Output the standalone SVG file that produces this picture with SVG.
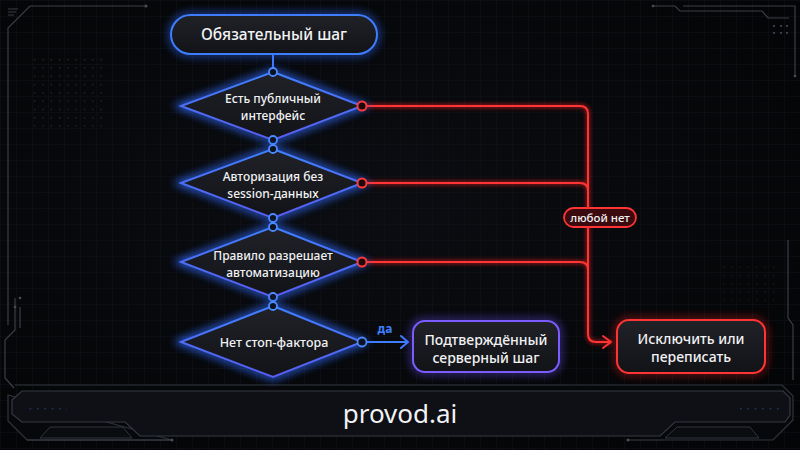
<svg xmlns="http://www.w3.org/2000/svg" width="800" height="450" viewBox="0 0 800 450">
<defs>
<pattern id="grid" width="16" height="16" patternUnits="userSpaceOnUse">
<path d="M16 0H0V16" fill="none" stroke="#11141b" stroke-width="1"/>
</pattern>
<pattern id="dots" width="8.3" height="8.3" patternUnits="userSpaceOnUse">
<circle cx="1.5" cy="1.5" r="0.8" fill="#2a2e36"/>
</pattern>
<pattern id="bdots" width="7.4" height="8.5" patternUnits="userSpaceOnUse">
<rect x="0" y="0" width="1.4" height="1.4" fill="#1f3a6a"/>
</pattern>
<radialGradient id="vig" cx="45%" cy="45%" r="65%">
<stop offset="0" stop-color="#0b0d12"/>
<stop offset="1" stop-color="#040506"/>
</radialGradient>
<linearGradient id="nodeFill" x1="0" y1="0" x2="0" y2="1">
<stop offset="0" stop-color="#202228"/>
<stop offset="1" stop-color="#111317"/>
</linearGradient>
<linearGradient id="diaStroke" x1="0" y1="0" x2="0" y2="1">
<stop offset="0" stop-color="#3f80ff"/>
<stop offset="1" stop-color="#5a5cf0"/>
</linearGradient>
<filter id="glow" x="-30%" y="-40%" width="160%" height="180%">
<feGaussianBlur stdDeviation="4"/>
</filter>
<filter id="glowS" x="-30%" y="-40%" width="160%" height="180%">
<feGaussianBlur stdDeviation="2"/>
</filter>
</defs>
<style>
.t{font-family:"Noto Sans","Open Sans","Liberation Sans",sans-serif;fill:#f2f2f4;text-anchor:middle;font-weight:500}
.d{font-size:12px}
.n{font-size:14px}
.dia{fill:url(#nodeFill);stroke:url(#diaStroke);stroke-width:2}
.diaG{fill:none;stroke:#2f6bff;stroke-width:6;filter:url(#glow);opacity:0.9}
.blue{fill:none;stroke:#3f7dff;stroke-width:2}
.red{fill:none;stroke:#ff3434;stroke-width:2}
.redG{fill:none;stroke:#ff2020;stroke-width:4;filter:url(#glowS);opacity:0.55}
.bc{fill:#0e1220;stroke:#4a8aff;stroke-width:1.8}
.rc{fill:#1a0a0c;stroke:#ff3a3a;stroke-width:2}
.frame{fill:none;stroke:#3a3e46;stroke-width:1.2}
</style>
<rect width="800" height="450" fill="url(#vig)"/>
<rect width="800" height="450" fill="url(#grid)"/>
<g id="decor">
<rect x="32" y="52" width="75" height="75" fill="url(#dots)" opacity="0.8"/>
<rect x="720" y="262" width="55" height="42" fill="url(#dots)" opacity="0.5"/>
<path class="frame" d="M146 6H30L8 28V325"/>
<circle cx="146" cy="6" r="1.5" fill="#4a4e56"/>
<path class="frame" d="M8 9H18M8 12H16M8 15H14" stroke-width="1"/>
<path class="frame" d="M15 298V330L5 340V378L14 388"/>
<path class="frame" d="M20 307V328"/>
<circle cx="20" cy="298" r="1.3" fill="#4a4e56"/>
<circle cx="15" cy="307" r="1.3" fill="#4a4e56"/>
<path class="frame" d="M653 6H675L680 11H762L768 18H789"/>
<circle cx="653" cy="6" r="1.3" fill="#4a4e56"/>
<path class="frame" d="M683 6H795V76"/>
<circle cx="795" cy="76" r="1.3" fill="#4a4e56"/>
<g fill="#4a4e56"><circle cx="774" cy="26" r="1"/><circle cx="781" cy="26" r="1"/><circle cx="787" cy="26" r="1"/><circle cx="774" cy="33" r="1"/><circle cx="781" cy="33" r="1"/><circle cx="787" cy="33" r="1"/></g>
<path class="frame" d="M788 240V318L793 325V380"/>
</g>
<g id="footer">
<path d="M15 385H782L793 396V420L773 440H663M172 440H27L8 421V395Z" fill="#07080b" stroke="#30343c" stroke-width="1.2"/>
<path d="M22 391H783L790 398V415L785 422H675L660 436H140L125 422H22L12 414V400Z" fill="#0e1015" stroke="#353941" stroke-width="1.2"/>
<path d="M40 438L50 427H123L132 438Z" fill="#0a0c10" stroke="#30343c" stroke-width="1"/>
<path d="M665 438L677 427H750L759 438Z" fill="#0a0c10" stroke="#30343c" stroke-width="1"/>
<path d="M27 440H172M628 440H663" stroke="#3a3e46" stroke-width="1"/>
<circle cx="172" cy="440" r="1.5" fill="#4a4e56"/>
<circle cx="628" cy="440" r="1.5" fill="#4a4e56"/>
<rect x="25" y="403" width="42" height="12" fill="url(#bdots)"/>
<rect x="737" y="403" width="42" height="12" fill="url(#bdots)"/>
<text class="t" x="400" y="423" font-size="26" style="font-weight:400">provod.ai</text>
</g>
<g id="connectors">
<path class="blue" d="M273 54V68"/>
<path class="blue" d="M273 141V145M273 219V223M273 298V302"/>
<path class="redG" d="M366 106H580Q588 106 588 114V334Q588 342 596 342H612M366 183H580Q588 183 588 191M366 262H580Q588 262 588 270"/>
<path class="red" d="M366 106H580Q588 106 588 114V334Q588 342 596 342H611"/>
<path class="red" d="M366 183H580Q588 183 588 191"/>
<path class="red" d="M366 262H580Q588 262 588 270"/>
<path class="red" d="M603 336L611 342L603 348" stroke-linejoin="round" stroke-linecap="round"/>
<path class="blue" d="M366 342H408"/>
<path class="blue" d="M401 336L408 342L401 348" stroke-linejoin="round" stroke-linecap="round"/>
<text x="385" y="333" font-family="Noto Sans,Open Sans,Liberation Sans,sans-serif" font-size="12" font-weight="bold" fill="#3f7dff" text-anchor="middle">да</text>
<g id="label-any-no">
<rect x="564" y="208" width="72" height="19" rx="9.5" fill="#3a0a0e" stroke="#ff3434" stroke-width="1.8"/>
<text class="t" x="600" y="221.5" font-size="11.5">любой нет</text>
</g>
</g>
<g id="start">
<rect x="171" y="15" width="206" height="39" rx="19.5" fill="none" stroke="#2f6bff" stroke-width="5" filter="url(#glow)" opacity="0.7"/>
<rect x="171" y="15" width="206" height="39" rx="19.5" fill="url(#nodeFill)" stroke="#3f7dff" stroke-width="2"/>
<text class="t" x="274" y="40" font-size="15.5">Обязательный шаг</text>
</g>
<g id="d1">
<polygon class="diaG" points="273,72 362,106 273,140 181,106"/>
<polygon class="dia" points="273,72 362,106 273,140 181,106"/>
<text class="t d" x="273" y="103">Есть публичный</text>
<text class="t d" x="273" y="119.5">интерфейс</text>
<circle class="bc" cx="273" cy="72" r="4"/>
<circle class="bc" cx="273" cy="140" r="4"/>
<circle class="rc" cx="362" cy="106" r="4.5"/>
</g>
<g id="d2">
<polygon class="diaG" points="273,149 362,183 273,218 181,183"/>
<polygon class="dia" points="273,149 362,183 273,218 181,183"/>
<text class="t d" x="273" y="181">Авторизация без</text>
<text class="t d" x="273" y="197.5">session-данных</text>
<circle class="bc" cx="273" cy="149" r="4"/>
<circle class="bc" cx="273" cy="218" r="4"/>
<circle class="rc" cx="362" cy="183" r="4.5"/>
</g>
<g id="d3">
<polygon class="diaG" points="273,227 362,262 273,297 181,262"/>
<polygon class="dia" points="273,227 362,262 273,297 181,262"/>
<text class="t d" x="273" y="260">Правило разрешает</text>
<text class="t d" x="273" y="276.5">автоматизацию</text>
<circle class="bc" cx="273" cy="227" r="4"/>
<circle class="bc" cx="273" cy="297" r="4"/>
<circle class="rc" cx="362" cy="262" r="4.5"/>
</g>
<g id="d4">
<polygon class="diaG" points="273,306 362,342 273,377 181,342"/>
<polygon class="dia" points="273,306 362,342 273,377 181,342"/>
<text class="t" x="274" y="346.5" font-size="12.5">Нет стоп-фактора</text>
<circle class="bc" cx="273" cy="306" r="4"/>
<circle class="bc" cx="362" cy="342" r="4.5"/>
</g>
<g id="confirmed">
<rect x="413" y="321" width="146" height="51" rx="12" fill="none" stroke="#6a4dff" stroke-width="5" filter="url(#glow)" opacity="0.6"/>
<rect x="413" y="321" width="146" height="51" rx="12" fill="url(#nodeFill)" stroke="#7a5cff" stroke-width="2"/>
<text class="t n" x="486" y="345">Подтверждённый</text>
<text class="t n" x="486" y="362.5">серверный шаг</text>
</g>
<g id="exclude">
<rect x="617" y="320" width="148" height="53" rx="12" fill="none" stroke="#ff2020" stroke-width="5" filter="url(#glow)" opacity="0.5"/>
<rect x="617" y="320" width="148" height="53" rx="12" fill="url(#nodeFill)" stroke="#ff3434" stroke-width="2"/>
<text class="t n" x="691" y="344">Исключить или</text>
<text class="t n" x="691" y="362">переписать</text>
</g>
</svg>
